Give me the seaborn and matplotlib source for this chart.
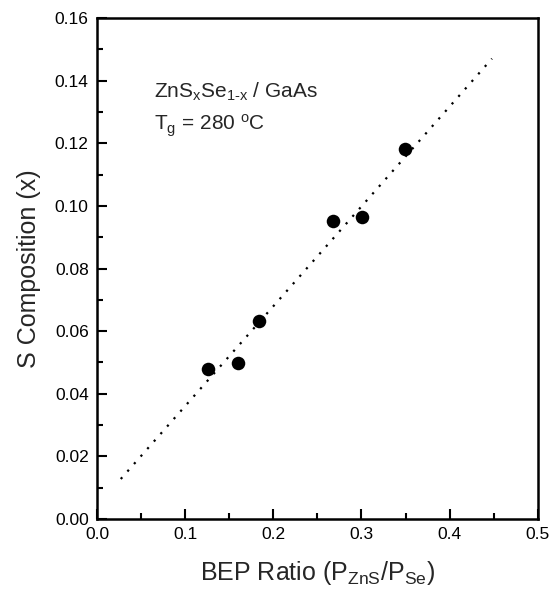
import matplotlib
matplotlib.use("Agg")
import matplotlib.pyplot as plt
import seaborn as sns
import pandas as pd
from matplotlib.ticker import MultipleLocator, FormatStrFormatter

# Data
bep_ratio = [0.126, 0.160, 0.184, 0.268, 0.301, 0.349]
s_comp = [0.048, 0.0498, 0.0632, 0.0952, 0.0964, 0.118]
fit_x = [0.027, 0.448]
fit_y = [0.0128, 0.147]

sns.set_theme(style="ticks")
plt.rcParams['font.family'] = ['Liberation Sans', 'DejaVu Sans']
plt.rcParams['mathtext.fontset'] = 'custom'
plt.rcParams['mathtext.rm'] = 'Liberation Sans'
plt.rcParams['mathtext.it'] = 'Liberation Sans'
plt.rcParams['mathtext.default'] = 'regular'

df = pd.DataFrame({"x": bep_ratio, "y": s_comp})
fit = pd.DataFrame({"x": fit_x, "y": fit_y})

fig = plt.figure(figsize=(5.51, 5.98), dpi=100)
ax = fig.add_axes([0.176, 0.132, 0.800, 0.838])

sns.lineplot(data=fit, x="x", y="y", ax=ax, color="black",
             linestyle=(0, (1, 3.5)), linewidth=1.6)
sns.scatterplot(data=df, x="x", y="y", ax=ax, color="black", s=95,
                edgecolor="black", linewidth=0, zorder=3)

ax.set_xlim(0, 0.5)
ax.set_ylim(0, 0.16)
ax.xaxis.set_major_locator(MultipleLocator(0.1))
ax.xaxis.set_minor_locator(MultipleLocator(0.05))
ax.yaxis.set_major_locator(MultipleLocator(0.02))
ax.yaxis.set_minor_locator(MultipleLocator(0.01))
ax.xaxis.set_major_formatter(FormatStrFormatter('%.1f'))
ax.yaxis.set_major_formatter(FormatStrFormatter('%.2f'))

ax.tick_params(which='both', direction='in', top=False, right=False,
               width=1.5, labelsize=12.5, colors='black')
ax.tick_params(which='major', length=7, pad=6)
ax.tick_params(which='minor', length=4)
for sp in ax.spines.values():
    sp.set_linewidth(1.8)
    sp.set_color('black')
    sp.set_visible(True)

ax.set_xlabel(r"BEP Ratio (P$_{ZnS}$/P$_{Se}$)", fontsize=18, labelpad=12)
ax.set_ylabel("S Composition (x)", fontsize=18, labelpad=10)

ax.text(0.065, 0.1365, r"ZnS$_x$Se$_{1\text{-}x}$ / GaAs", fontsize=15, va='center')
ax.text(0.065, 0.1255, r"T$_g$ = 280 $^o$C", fontsize=15, va='center')

fig.savefig("out.png", dpi=100)
